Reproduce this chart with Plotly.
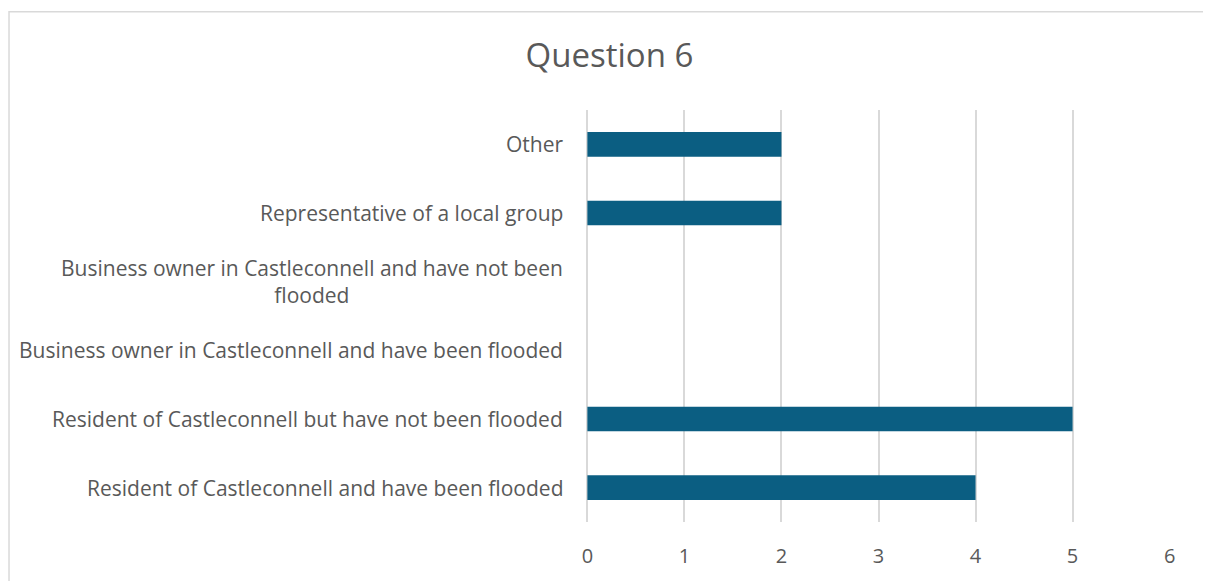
import plotly.graph_objects as go

# categories bottom -> top, as they appear on the chart
categories = [
    "Resident of Castleconnell and have been flooded",
    "Resident of Castleconnell but have not been flooded",
    "Business owner in Castleconnell and have been flooded",
    "Business owner in Castleconnell and have not been<br>flooded",
    "Representative of a local group",
    "Other",
]
responses = [4, 5, 0, 0, 2, 2]
x_ticks = [0, 1, 2, 3, 4, 5, 6]

bar_colour = "#0B5E82"
text_colour = "#595959"
grid_colour = "#D9D9D9"
font_family = "Open Sans, Noto Sans, sans-serif"

fig = go.Figure()

fig.add_trace(go.Bar(
    x=responses,
    y=categories,
    orientation="h",
    marker={"color": bar_colour, "line": {"width": 0}},
    width=0.36,
    showlegend=False,
    hoverinfo="x+y",
))

# Category labels as annotations so that wrapped lines stay centred
for cat in categories:
    fig.add_annotation(
        x=0, xref="paper", xshift=-22,
        y=cat, yref="y",
        text=cat,
        showarrow=False,
        xanchor="right",
        align="center",
        font={"size": 21, "color": text_colour, "family": font_family},
    )

# chart border (page has an 8px body margin)
fig.add_shape(
    type="rect", xref="paper", yref="paper",
    x0=-0.9914, x1=1.0583, y0=-0.3, y1=1.2386,
    line={"color": grid_colour, "width": 1.5},
    layer="below",
)

fig.update_layout(
    width=1203,
    height=573,
    margin={"l": 579, "r": 41, "t": 102, "b": 56},
    paper_bgcolor="white",
    plot_bgcolor="white",
    title={
        "text": "Question 6",
        "x": 0.5,
        "xanchor": "center",
        "y": 1 - 47 / 573,
        "yanchor": "middle",
        "font": {"size": 33, "color": text_colour, "family": font_family},
    },
    bargap=0.64,
)

fig.update_xaxes(
    range=[-0.004, 6.004],
    tickvals=x_ticks,
    showgrid=True,
    gridcolor=grid_colour,
    gridwidth=1.5,
    zeroline=True,
    zerolinecolor=grid_colour,
    zerolinewidth=1.5,
    showline=False,
    ticks="",
    ticklabelstandoff=20,
    tickfont={"size": 20, "color": text_colour, "family": font_family},
    fixedrange=True,
)

fig.update_yaxes(
    categoryorder="array",
    categoryarray=categories,
    showticklabels=False,
    showgrid=False,
    zeroline=False,
    showline=False,
    ticks="",
    fixedrange=True,
)

fig.write_html("out.html")
